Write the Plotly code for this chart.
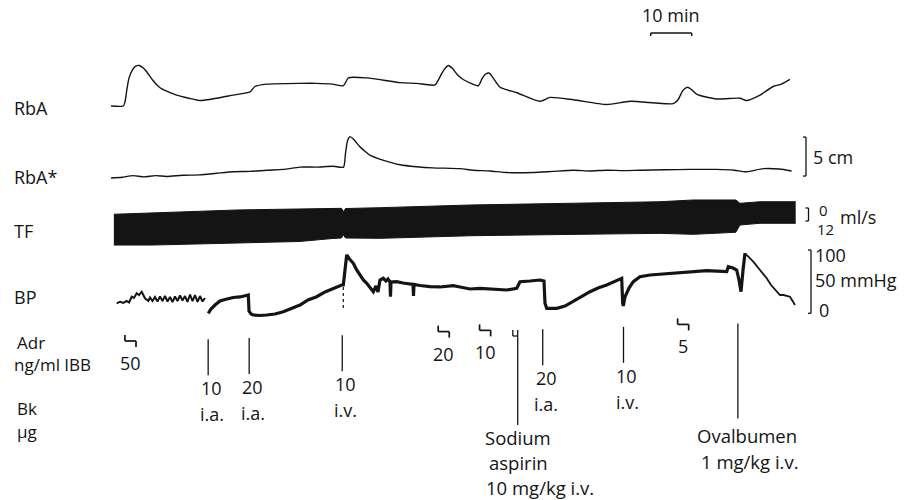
import plotly.graph_objects as go

W, H = 918, 500
PX_PER_MIN = 4.1      # 10 min scale bar = 41 px
X0_PX = 111           # start of the record on the page
FONT = "Open Sans"
INK = "#141414"

# ---------------- data (time in min from start of record) ----------------
rba_t = [0, 3.0, 3.4, 3.9, 4.4, 5.2, 6.0, 6.9, 7.8, 8.7, 10.2, 11.4, 12.4, 14.0, 16.0,
         19.0, 21.7, 25.8, 29.8, 33.9, 35.1, 38.0, 46.1, 50.2, 54.0, 56.7, 57.9, 62.4,
         70.5, 74.6, 79.0, 80.3, 81.3, 82.3, 83.3, 84.5, 85.9, 89.6, 90.5, 91.4, 92.3,
         93.2, 94.9, 99.0, 104.6, 107.1, 112.8, 120.9, 126.6, 137.1, 138.3, 139.5,
         140.6, 141.6, 142.9, 147.7, 153.4, 155.0, 158.3, 161.5, 163.5, 165.6]
rba_cm = [0, 0, 0.5, 2.2, 3.6, 4.6, 5.1, 5.2, 4.9, 4.4, 3.3, 2.6, 2.2, 1.8, 1.4,
          1.0, 0.7, 1.0, 1.4, 1.8, 2.5, 2.8, 2.9, 2.9, 2.8, 2.6, 3.6, 3.6,
          3.0, 2.9, 2.7, 3.8, 4.7, 5.2, 4.8, 4.0, 3.4, 2.6, 3.5, 4.1, 4.2,
          3.6, 2.4, 1.7, 0.6, 1.1, 0.8, 0.2, 0.6, 0.3, 0.8, 2.0,
          2.4, 2.1, 1.5, 0.9, 1.0, 0.7, 1.4, 2.5, 2.8, 3.4]

rbas_t = [0, 2.7, 5.4, 8.0, 10.8, 13.6, 17.5, 21.7, 25.7, 29.8, 33.9, 38.0, 42.0, 46.1,
          50.1, 54.2, 56.7, 57.2, 57.7, 58.3, 59.1, 60.7, 62.0, 63.2, 66.3, 70.5, 74.5,
          78.5, 85.1, 88.3, 92.4, 96.5, 102.9, 107.8, 112.8, 116.8, 120.9, 125.0, 129.0,
          135.0, 141.2, 147.7, 152.0, 155.0, 159.1, 163.0, 166.0]
rbas_cm = [0, 0.1, 0.3, 0.15, 0.3, 0.2, 0.35, 0.4, 0.6, 0.8, 0.85, 1.0, 1.1, 1.4,
           1.4, 1.5, 1.4, 3.2, 4.8, 5.3, 5.0, 4.0, 3.4, 2.9, 2.3, 1.7, 1.45,
           1.3, 1.2, 1.0, 0.9, 0.7, 0.7, 0.85, 1.0, 0.9, 1.0, 0.95, 1.0,
           1.05, 1.1, 1.1, 1.0, 0.8, 1.2, 1.15, 0.9]

tf_t = [0.7, 10.0, 31.0, 46.0, 53.9, 56.2, 56.7, 57.2, 65.7, 87.8, 109.8, 133.9,
        142.0, 152.4, 153.4, 158.3, 167.0]
tf_top = [5.8, 4.6, 1.8, 0.9, 0.3, 0.3, 3.4, 0.5, -0.3, -2.8, -4.2, -5.8,
          -7.4, -7.4, -4.3, -5.8, -5.8]
tf_bot = [34.2, 34.2, 32.3, 30.9, 28.2, 27.7, 24.9, 27.7, 28.0, 25.6, 24.5, 23.4,
          24.3, 22.4, 15.7, 14.1, 14.1]

bp_t = [1.39, 2.20, 3.00, 3.83, 4.39, 5.05, 5.61, 6.27, 6.83, 7.49, 8.29, 9.10, 9.51,
        10.12, 10.73, 11.34, 11.95, 12.56, 13.17, 13.78, 14.39, 15.00, 15.61, 16.22,
        16.83, 17.44, 18.05, 18.66, 19.27, 19.88, 20.49, 21.10, 21.71, 22.32, 22.93,
        23.73, 24.39, 25.37, 26.59, 27.80, 29.83, 31.46, 32.68, 33.49,
        33.66, 34.15, 34.71, 36.34, 37.98, 40.00, 42.02, 43.66, 46.10, 48.05, 50.17,
        52.20, 54.22, 56.27, 56.66, 57.49, 58.05, 59.10, 59.93, 60.73, 61.54, 62.37,
        63.17, 63.98, 64.63, 65.12, 65.61, 66.41, 67.07, 67.56, 68.05, 68.17, 68.29,
        69.68, 71.22, 72.44, 73.66, 73.78, 73.90, 75.37, 77.80, 80.24, 83.49, 85.12,
        87.56, 90.00, 92.44, 96.51, 98.95, 99.76, 102.20, 104.63, 105.61, 105.85,
        106.27, 108.71, 110.73, 112.76, 114.63, 116.83, 118.78, 120.90, 122.68,
        124.56, 124.80, 124.95, 125.37, 126.34, 127.39, 129.02, 131.46, 133.90,
        137.15, 141.22, 145.29, 150.17, 150.56, 151.71, 152.61, 153.17, 153.66,
        154.15, 154.63, 155.61, 156.66, 158.29, 159.93, 160.98, 162.37, 163.17,
        163.98, 165.12, 165.61, 166.83]
bp_mmhg = [15.8, 18.3, 16.3, 19.4, 17.1, 26.2, 24.2, 31.6, 28.9, 34.1, 23.7, 19.4, 25.0,
           19.4, 25.8, 18.6, 26.5, 19.4, 27.3, 18.6, 25.8, 17.9, 26.5, 19.4,
           28.1, 20.2, 27.3, 17.9, 29.7, 19.4, 28.9, 17.9, 27.3, 18.6, 24.2,
           0.0, 6.8, 13.1, 19.4, 21.8, 25.0, 25.8, 27.3, 28.9,
           3.6, -1.1, -2.7, -3.5, -2.7, -1.1, 2.5, 6.8, 13.1, 21.0, 26.2,
           33.7, 39.5, 44.7, 44.7, 92.1, 86.6, 79.0, 68.4, 60.5, 52.6, 47.4,
           41.6, 34.1, 43.1, 33.7, 52.6, 55.3, 51.0, 54.2, 49.5, 26.2, 49.5,
           49.9, 47.9, 46.3, 45.8, 27.3, 45.5, 43.9, 42.0, 41.6, 43.6, 41.6,
           38.4, 39.5, 38.4, 36.8, 39.5, 49.9, 51.0, 52.6, 51.0, 15.8,
           7.9, 7.9, 11.5, 18.3, 25.8, 34.1, 40.0, 44.7, 49.5,
           55.3, 15.8, 11.5, 26.2, 40.0, 49.9, 57.8, 60.5, 61.6,
           63.2, 65.3, 67.3, 65.7, 73.6, 71.6, 68.4, 52.6, 34.1,
           68.4, 94.8, 89.0, 81.5, 68.4, 55.3, 44.7, 34.1, 28.9,
           28.9, 27.3, 26.2, 13.1]
bp_pen_t = 56.66
bp_pen_mmhg = [8.4, 44.7]

adr_t = [3.4, 79.8, 89.9, 138.2]
adr_dose = ["50", "20", "10", "5"]

bk_t = [23.7, 33.7, 56.4, 105.3, 125.0]
bk_dose = ["10", "20", "10", "20", "10"]
bk_route = ["i.a.", "i.a.", "i.v.", "i.a.", "i.v."]

drug_t = [99.2, 152.9]
drug_lines = [["Sodium", "aspirin", "10 mg/kg i.v."], ["Ovalbumen", "1 mg/kg i.v."]]

scale_min = 10
scale_cm = 5
tf_scale = [0, 12]
bp_scale = [0, 50, 100]

# ---------------- helpers (page geometry) ----------------
def yp(py):
    return 1 - py / H

def xp(px):
    return px / W

def tx(t):
    return X0_PX + t * PX_PER_MIN

def axis_range(ref_val, ref_px, ppu, down=False):
    if not down:
        return [ref_val + (ref_px - H) / ppu, ref_val + ref_px / ppu]
    return [ref_val + (H - ref_px) / ppu, ref_val - ref_px / ppu]

def tilt(px):
    return -0.03 * (px - 208)

fig = go.Figure()

line_style = dict(color=INK, width=1.4, shape="spline", smoothing=0.6)
fig.add_trace(go.Scatter(x=rba_t, y=rba_cm, mode="lines", line=line_style, yaxis="y"))
fig.add_trace(go.Scatter(x=rbas_t, y=rbas_cm, mode="lines", line=line_style, yaxis="y2"))

fig.add_trace(go.Scatter(x=tf_t, y=tf_bot, mode="lines", line=dict(color=INK, width=1), yaxis="y3"))
fig.add_trace(go.Scatter(x=tf_t, y=tf_top, mode="lines", line=dict(color=INK, width=1),
                         fill="tonexty", fillcolor=INK, yaxis="y3"))

def pick(lo, hi):
    xs, ys = [], []
    for t, v in zip(bp_t, bp_mmhg):
        if lo <= t <= hi:
            xs.append(t); ys.append(v)
    return xs, ys

for (lo, hi, w) in [(0, 23.0, 2.0), (23.5, 154.63, 3.2), (154.63, 200, 1.8)]:
    xs, ys = pick(lo, hi)
    fig.add_trace(go.Scatter(x=xs, y=ys, mode="lines", line=dict(color=INK, width=w), yaxis="y4"))
fig.add_trace(go.Scatter(x=[bp_pen_t, bp_pen_t], y=bp_pen_mmhg, mode="lines",
                         line=dict(color=INK, width=1.2, dash="dot"), yaxis="y4"))

shapes = []
annotations = []

def seg(x0, y0, x1, y1, xref="x", yref="paper", w=1.3):
    shapes.append(dict(type="line", xref=xref, yref=yref, x0=x0, y0=y0, x1=x1, y1=y1,
                       line=dict(color=INK, width=w)))

def txt(x, y, s, size=18, xanchor="center", xref="paper", yref="paper"):
    annotations.append(dict(x=x, y=y, xref=xref, yref=yref, text=s, showarrow=False,
                            xanchor=xanchor, yanchor="middle", borderpad=0,
                            font=dict(family=FONT, size=size, color=INK)))

# Adrenaline step markers
for t, d in zip(adr_t, adr_dose):
    top = 335 - 0.03 * (tx(t) - 125)
    wmin = 2.7
    seg(t, yp(top), t, yp(top + 6), w=1.7)
    seg(t, yp(top + 6), t + wmin, yp(top + 6), w=1.7)
    seg(t + wmin, yp(top + 6), t + wmin, yp(top + 12), w=1.7)
    txt(t + wmin / 2, yp(top + 28), d, xref="x")

# Bradykinin injections
for t, d, r in zip(bk_t, bk_dose, bk_route):
    top = 339.3 + tilt(tx(t))
    bot = top + 36
    seg(t, yp(top), t, yp(bot))
    txt(t + 0.8, yp(bot + 13), d, xref="x")
    txt(t + 0.9, yp(bot + 39), r, xref="x")

# Drug injections (long lines)
drug_text_dx = [[0, 1, 22], [9, 12]]
drug_text_dy = [[12, 37, 62], [17, 43]]
for i, t in enumerate(drug_t):
    top = 339.3 + tilt(tx(t))
    bot = top + 95
    seg(t, yp(top), t, yp(bot))
    if i == 0:
        seg(t - 1.2, yp(top), t - 1.2, yp(top + 6))
        seg(t - 1.2, yp(top + 6), t, yp(top + 6))
    for s, dx, dy in zip(drug_lines[i], drug_text_dx[i], drug_text_dy[i]):
        txt(xp(tx(t) + dx), yp(bot + dy), s, size=18.5)

# Left labels
for s, x, y, sz in [("RbA", 13, 108, 18), ("RbA*", 13, 177, 18), ("TF", 13, 231, 18),
                    ("BP", 13, 297, 18), ("Adr", 16, 342, 17), ("ng/ml IBB", 13, 364, 17),
                    ("Bk", 16, 408, 17), ("μg", 16, 431, 17)]:
    txt(xp(x), yp(y), s, size=sz, xanchor="left")

# 10 min time bar
t0 = (650.7 - X0_PX) / PX_PER_MIN
seg(t0, yp(33), t0 + scale_min, yp(33), w=1.5)
seg(t0, yp(33), t0, yp(36), w=1.5)
seg(t0 + scale_min, yp(33), t0 + scale_min, yp(36), w=1.5)
txt(t0 + scale_min / 2, yp(15), f"{scale_min} min", xref="x")

# 5 cm bracket (RbA* units)
bx = xp(806)
tick = 3 / W
seg(bx, 0.25, bx, 0.25 + scale_cm, xref="paper", yref="y2")
seg(bx - tick, 0.25, bx, 0.25, xref="paper", yref="y2")
seg(bx - tick, 0.25 + scale_cm, bx, 0.25 + scale_cm, xref="paper", yref="y2")
txt(xp(812), yp(157), f"{scale_cm} cm", xanchor="left")

# TF bracket (ml/s)
bx = xp(808.5)
seg(bx, tf_scale[0], bx, tf_scale[1], xref="paper", yref="y3")
seg(bx - tick, tf_scale[0], bx, tf_scale[0], xref="paper", yref="y3")
seg(bx - tick, tf_scale[1], bx, tf_scale[1], xref="paper", yref="y3")
txt(xp(818), yp(210), str(tf_scale[0]), size=15, xanchor="left")
txt(xp(816), yp(229), str(tf_scale[1]), size=15, xanchor="left")
txt(xp(839), yp(216.5), "ml/s", xanchor="left")

# BP bracket (mmHg)
bx = xp(811)
seg(bx, bp_scale[0], bx, bp_scale[2], xref="paper", yref="y4")
seg(bx - tick, bp_scale[0], bx, bp_scale[0], xref="paper", yref="y4")
seg(bx - tick, bp_scale[2], bx, bp_scale[2], xref="paper", yref="y4")
txt(xp(814), yp(255), str(bp_scale[2]), xanchor="left")
txt(xp(814), yp(280), f"{bp_scale[1]} mmHg", xanchor="left")
txt(xp(818), yp(310), str(bp_scale[0]), xanchor="left")

hidden = dict(visible=False, showgrid=False, zeroline=False, fixedrange=True)
fig.update_layout(
    width=W, height=H, autosize=False,
    margin=dict(l=0, r=0, t=0, b=0, pad=0),
    paper_bgcolor="white", plot_bgcolor="white",
    showlegend=False,
    xaxis=dict(range=[(0 - X0_PX) / PX_PER_MIN, (W - X0_PX) / PX_PER_MIN], **hidden),
    yaxis=dict(range=axis_range(0, 106, 7.8), domain=[0, 1], **hidden),
    yaxis2=dict(range=axis_range(0, 178, 7.8), domain=[0, 1], overlaying="y", **hidden),
    yaxis3=dict(range=axis_range(0, 208, 13 / 12, down=True), domain=[0, 1], overlaying="y", **hidden),
    yaxis4=dict(range=axis_range(0, 313.3, 0.633), domain=[0, 1], overlaying="y", **hidden),
    shapes=shapes,
    annotations=annotations,
)

fig.write_html("out.html")
